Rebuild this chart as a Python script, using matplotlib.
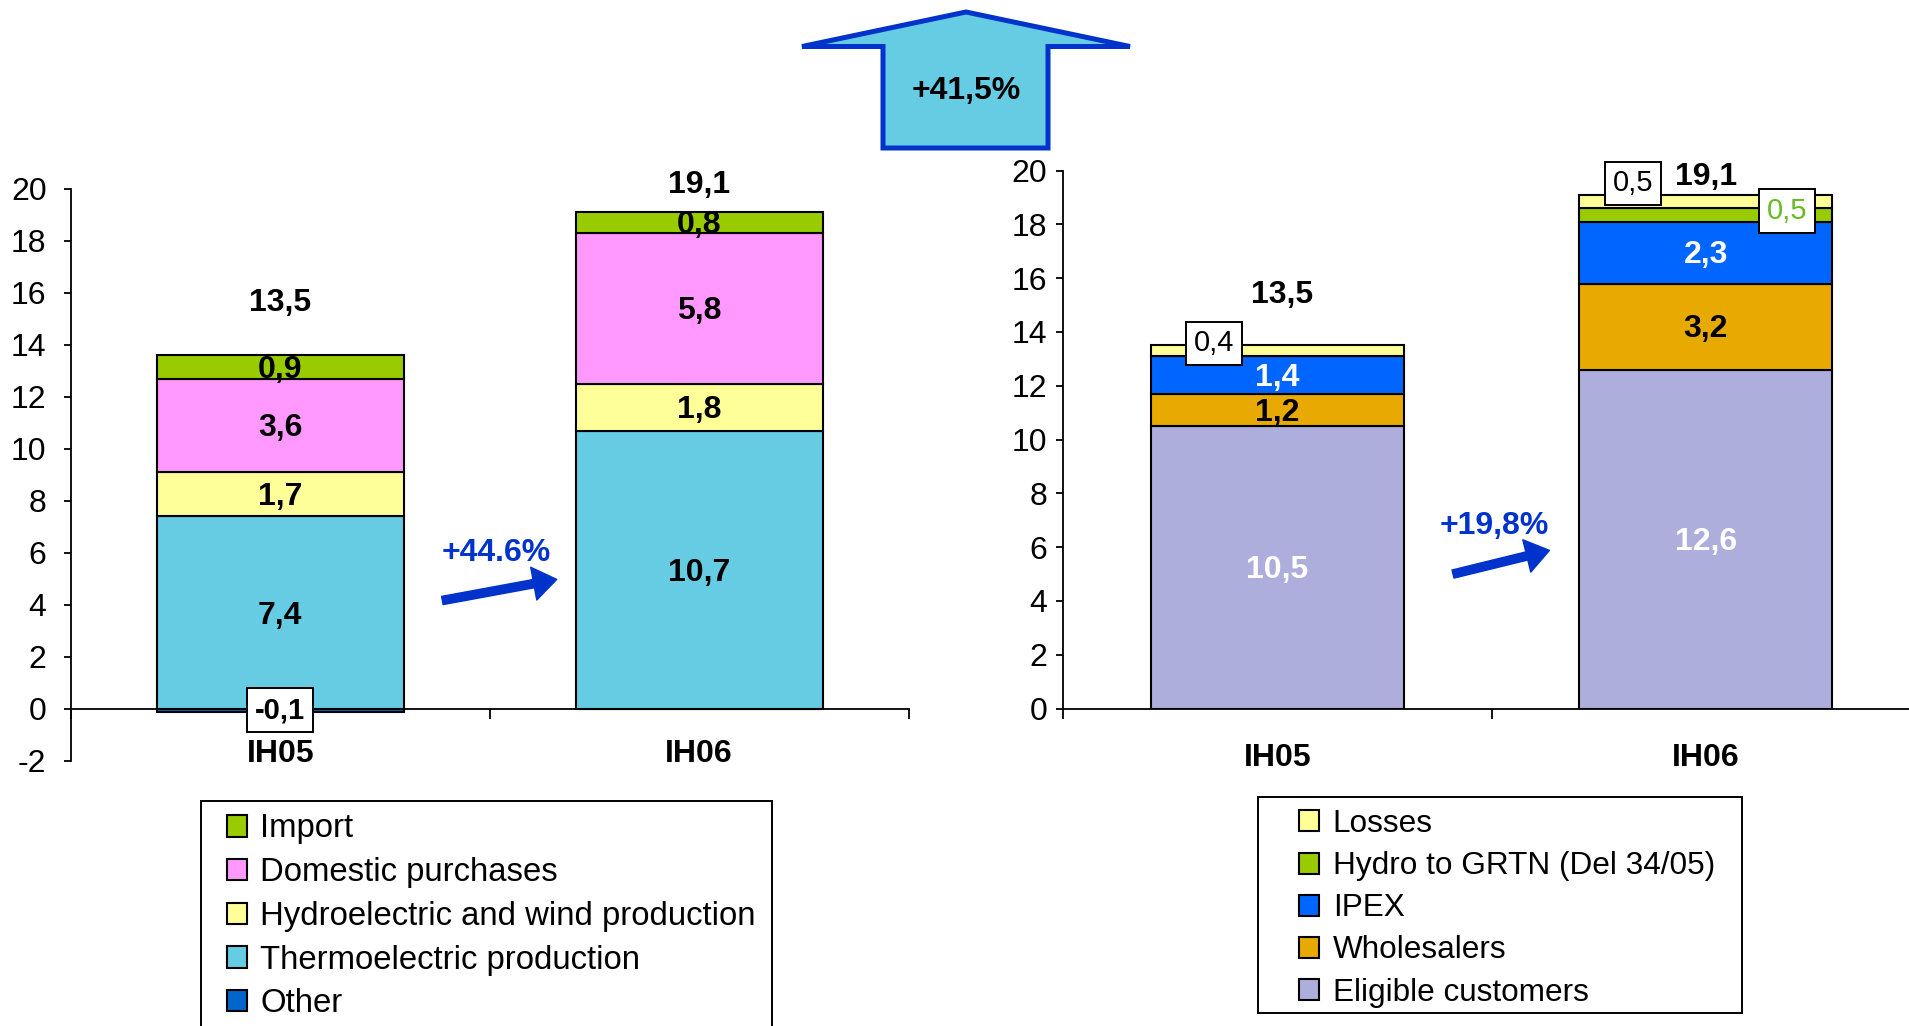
import numpy as np
import matplotlib
matplotlib.use('Agg')
import matplotlib.pyplot as plt
import matplotlib.transforms as mtransforms
from matplotlib.patches import Polygon, Rectangle, FancyArrowPatch

plt.rcParams['font.family'] = ['Liberation Sans', 'DejaVu Sans']
plt.rcParams['axes.unicode_minus'] = False

# figure size in pixels (dpi 100)
W, H = 1909, 1026

periods = ['IH05', 'IH06']

# Sources (bottom -> top), TWh
src_names = ['Other', 'Thermoelectric production', 'Hydroelectric and wind production',
             'Domestic purchases', 'Import']
other = [-0.1, 0.0]
thermo = [7.4, 10.7]
hydro_wind = [1.7, 1.8]
domestic = [3.6, 5.8]
imports = [0.9, 0.8]
src_totals = [13.5, 19.1]
src_growth = '+44.6%'

# Uses (bottom -> top), TWh
use_names = ['Eligible customers', 'Wholesalers', 'IPEX', 'Hydro to GRTN (Del 34/05)', 'Losses']
eligible = [10.5, 12.6]
wholesalers = [1.2, 3.2]
ipex = [1.4, 2.3]
hydro_grtn = [0.0, 0.5]
losses = [0.4, 0.5]
use_totals = [13.5, 19.1]
use_growth = '+19,8%'

overall_growth = '+41,5%'

BLUE = '#0033CC'
LBL = 23
TICK = 23
BAR_W = 0.59


def fmt(v):
    return f'{v:.1f}'.replace('.', ',')


def px(x, y):
    # figure pixel (from top-left) -> figure fraction
    return x / W, 1 - y / H


def style_axes(ax, ymin, ymax, ypad):
    ax.set_xlim(-0.5, 1.5)
    ax.set_ylim(ymin, ymax)
    ax.set_yticks(np.arange(ymin, ymax + 1, 2))
    ax.set_xticks([-0.5, 0.5, 1.5])
    ax.set_xticklabels([])
    ax.spines['top'].set_visible(False)
    ax.spines['right'].set_visible(False)
    ax.spines['bottom'].set_position(('data', 0))
    for s in ('left', 'bottom'):
        ax.spines[s].set_linewidth(1.3)
    ax.tick_params(axis='y', labelsize=TICK, length=5, width=1.3, pad=ypad)
    ax.tick_params(axis='x', length=7, width=1.3, direction='out')
    ax.patch.set_visible(False)


def down(ax):
    # nudge labels a little lower, so the digits (not the comma) sit centred
    return ax.transData + mtransforms.ScaledTranslation(0, -2 / 72, fig.dpi_scale_trans)


def label(ax, x, y, s, color='black', **kw):
    ax.text(x, y, s, ha='center', va='center', fontsize=LBL, fontweight='bold',
            color=color, transform=down(ax), zorder=5, **kw)


def boxed(ax, x, y, s, color='black', weight='normal'):
    ax.text(x, y, s, ha='center', va='center', fontsize=21, color=color,
            fontweight=weight, zorder=6,
            bbox=dict(boxstyle='square,pad=0.27', fc='white', ec='black', lw=1.4))


def growth_arrow(ax, text, p0, p1, tpos):
    ax.add_patch(FancyArrowPatch(p0, p1, arrowstyle='simple,head_length=1.4,head_width=2.0,tail_width=0.5',
                                 mutation_scale=12, color=BLUE, shrinkA=0, shrinkB=0,
                                 clip_on=False, zorder=5))
    ax.text(tpos[0], tpos[1], text, ha='center', va='center', color=BLUE,
            fontsize=23, fontweight='bold')


fig = plt.figure(figsize=(W / 100, H / 100), dpi=100)
x = np.arange(len(periods))

# ---------------- left chart: sources ----------------
ax1 = fig.add_axes([70.9 / W, 1 - 761 / H, 837.6 / W, 572.3 / H])
style_axes(ax1, -2, 20, 12.5)

src_series = [other, thermo, hydro_wind, domestic, imports]
src_colors = ['#0066CC', '#66CCE4', '#FFFF99', '#FF99FF', '#99CC00']
bottom = np.zeros(len(periods))
src_handles = []
for name, vals, col in zip(src_names, src_series, src_colors):
    vals = np.array(vals)
    base = np.where(vals < 0, 0, bottom)
    h = ax1.bar(x, vals, BAR_W, bottom=base, color=col, edgecolor='black', lw=1.5,
                label=name, zorder=3)
    src_handles.append(h)
    for i, v in enumerate(vals):
        if v == 0:
            continue
        yc = base[i] + v / 2
        if name == 'Other':
            boxed(ax1, i, yc, fmt(v), weight='bold')
        else:
            label(ax1, i, yc, fmt(v))
    bottom = bottom + np.where(vals > 0, vals, 0)

label(ax1, 0, 15.7, fmt(src_totals[0]))
label(ax1, 1, 20.24, fmt(src_totals[1]), clip_on=False)
for i, p in enumerate(periods):
    label(ax1, i, -1.62, p, clip_on=False)
growth_arrow(ax1, src_growth, (0.387, 4.17), (0.66, 4.98), (0.515, 6.0))

# ---------------- right chart: uses ----------------
ax2 = fig.add_axes([1063 / W, 1 - 708.6 / H, 857.2 / W, 538.1 / H])
style_axes(ax2, 0, 20, 6.3)

use_series = [eligible, wholesalers, ipex, hydro_grtn, losses]
use_colors = ['#AEAEDC', '#E8AA00', '#0066FF', '#99CC00', '#FFFF99']
use_txt = ['white', 'black', 'white', None, None]
bottom = np.zeros(len(periods))
use_handles = []
for name, vals, col, tc in zip(use_names, use_series, use_colors, use_txt):
    vals = np.array(vals)
    h = ax2.bar(x, vals, BAR_W, bottom=bottom, color=col, edgecolor='black', lw=1.5,
                label=name, zorder=3)
    use_handles.append(h)
    if tc is not None:
        for i, v in enumerate(vals):
            label(ax2, i, bottom[i] + v / 2, fmt(v), color=tc)
    bottom = bottom + vals

# small segments: callout boxes
boxed(ax2, -0.147, 13.57, fmt(losses[0]))
boxed(ax2, 1 - 0.17, 19.52, fmt(losses[1]))
boxed(ax2, 1.19, 18.5, fmt(hydro_grtn[1]), color='#66BB22')

label(ax2, 0.01, 15.48, fmt(use_totals[0]))
label(ax2, 1.0, 19.86, fmt(use_totals[1]))
for i, p in enumerate(periods):
    label(ax2, i, -1.72, p, clip_on=False)
growth_arrow(ax2, use_growth, (0.41, 5.0), (0.635, 5.88), (0.506, 6.8))

# ---------------- legends ----------------
fig.legend(src_handles[::-1], src_names[::-1], loc='upper left',
           bbox_to_anchor=px(226.5, 813.5), frameon=False, fontsize=23.7,
           borderpad=0, borderaxespad=0, handlelength=0.62, handleheight=0.62,
           handletextpad=0.4, labelspacing=0.385)
fig.legend(use_handles[::-1], use_names[::-1], loc='upper left',
           bbox_to_anchor=px(1299, 809), frameon=False, fontsize=22.7,
           borderpad=0, borderaxespad=0, handlelength=0.65, handleheight=0.65,
           handletextpad=0.42, labelspacing=0.385)
x0, y0 = px(201, 1030)
x1, y1 = px(772, 801)
fig.add_artist(Rectangle((x0, y0), x1 - x0, y1 - y0, transform=fig.transFigure,
                         fill=False, ec='black', lw=1.4))
x0, y0 = px(1258, 1013)
x1, y1 = px(1742, 797)
fig.add_artist(Rectangle((x0, y0), x1 - x0, y1 - y0, transform=fig.transFigure,
                         fill=False, ec='black', lw=1.4))

# ---------------- overall block arrow ----------------
arrow_px = [(966, 12), (1130, 46.5), (1048, 46.5), (1048, 148), (883, 148),
            (883, 46.5), (802, 46.5)]
fig.add_artist(Polygon([px(a, b) for a, b in arrow_px], closed=True,
                       transform=fig.transFigure, fc='#66CCE4', ec=BLUE, lw=3.6,
                       joinstyle='miter'))
tx, ty = px(966, 91)
fig.text(tx, ty, overall_growth, ha='center', va='center', fontsize=23, fontweight='bold')

fig.savefig('out.png', dpi=100)
